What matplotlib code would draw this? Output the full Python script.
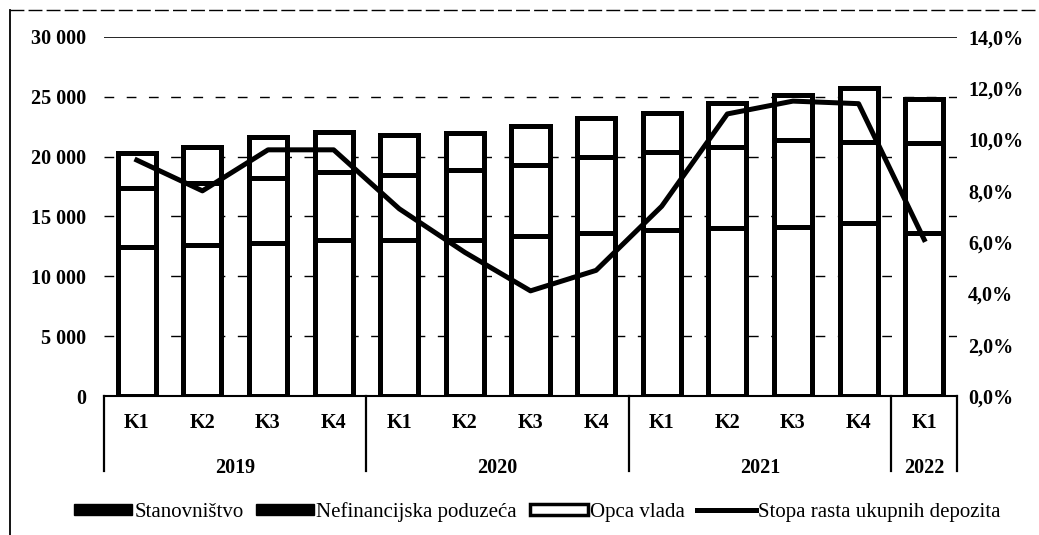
import matplotlib
matplotlib.use("Agg")
import matplotlib.pyplot as plt
from matplotlib.patches import Patch
from matplotlib.lines import Line2D
import numpy as np

quarters = ["K1", "K2", "K3", "K4", "K1", "K2", "K3", "K4", "K1", "K2", "K3", "K4", "K1"]
years = ["2019", "2020", "2021", "2022"]
year_sizes = [4, 4, 4, 1]
stanovnistvo = [12450, 12650, 12800, 13050, 13050, 13050, 13400, 13620, 13870, 14040, 14150, 14450, 13600]
nefinancijska = [4930, 5150, 5420, 5670, 5420, 5840, 5900, 6350, 6520, 6770, 7240, 6780, 7540]
opca_vlada = [2920, 3000, 3430, 3340, 3330, 3110, 3260, 3260, 3260, 3670, 3760, 4510, 3680]
stopa_rasta = [9.2, 8.0, 9.6, 9.6, 7.3, 5.6, 4.1, 4.9, 7.4, 11.0, 11.5, 11.4, 6.1]

plt.rcParams['font.family'] = 'serif'
plt.rcParams['font.serif'] = ['Liberation Serif']
FS = 14.5
FW = 'bold'

fig = plt.figure(figsize=(10.39, 5.35), dpi=100)
ax = fig.add_axes([104/1039, 1-396/535, (957-104)/1039, (396-37)/535])
ax2 = ax.twinx()

x = np.arange(len(quarters))
w = 0.58
s = np.array(stanovnistvo)
n = np.array(nefinancijska)
o = np.array(opca_vlada)
ax.bar(x, s, w, color='white', edgecolor='black', linewidth=3.6, zorder=2)
ax.bar(x, n, w, bottom=s, color='white', edgecolor='black', linewidth=3.6, zorder=2)
ax.bar(x, o, w, bottom=s+n, color='white', edgecolor='black', linewidth=3.6, zorder=2)

ax.set_xlim(-0.5, len(quarters)-0.5)
ax.set_ylim(0, 30000)
ax.set_yticks(np.arange(0, 30001, 5000))
ax.set_yticklabels([f"{v:,}".replace(",", " ") for v in range(0, 30001, 5000)],
                   fontsize=FS, fontweight=FW)
for v in range(5000, 30000, 5000):
    ax.axhline(v, color='black', lw=1.0, ls=(0, (7, 9)), zorder=1)
ax.axhline(30000, color='black', lw=1.2, zorder=1)
ax.tick_params(axis='y', length=0, pad=13)
ax.set_xticks([])
for sp in ['left', 'right', 'top']:
    ax.spines[sp].set_visible(False)
    ax2.spines[sp].set_visible(False)
ax.spines['bottom'].set_linewidth(1.5)
ax2.spines['bottom'].set_visible(False)

ax2.plot(x, stopa_rasta, color='black', lw=3.6, zorder=5)
ax2.set_ylim(0, 14)
ax2.set_yticks(np.arange(0, 14.1, 2))
ax2.set_yticklabels([f"{v:.1f}%".replace(".", ",") for v in np.arange(0, 14.1, 2)],
                    fontsize=FS, fontweight=FW)
ax2.tick_params(axis='y', length=0, pad=8)
ax.set_zorder(1)
ax2.set_zorder(2)
ax2.patch.set_visible(False)

# category labels
trans = ax.get_xaxis_transform()
for i, q in enumerate(quarters):
    ax.text(i, -0.075, q, transform=trans, ha='center', va='center', fontsize=FS,
            fontweight=FW, clip_on=False)
start = 0
bounds = [-0.5]
for yr, sz in zip(years, year_sizes):
    ax.text(start + (sz-1)/2, -0.2, yr, transform=trans, ha='center', va='center',
            fontsize=FS, fontweight=FW, clip_on=False)
    start += sz
    bounds.append(start - 0.5)
for b in bounds:
    ax.plot([b, b], [0, -0.21], transform=trans, color='black', lw=1.6, clip_on=False)

handles = [Patch(facecolor='black', edgecolor='black'),
           Patch(facecolor='black', edgecolor='black'),
           Patch(facecolor='white', edgecolor='black', linewidth=2.5),
           Line2D([0], [0], color='black', lw=3.6)]
labels = ["Stanovništvo", "Nefinancijska poduzeća", "Opca vlada", "Stopa rasta ukupnih depozita"]
fig.legend(handles, labels, loc='center', bbox_to_anchor=(537/1039, 1-512/535), ncol=4,
           frameon=False, prop={'size': 15}, handlelength=2.8, handleheight=0.45,
           handletextpad=0.1, columnspacing=0.6)

# frame from scan
fig.add_artist(Line2D([10/1039, 10/1039], [0, 1-10/535], color='black', lw=1.3))
fig.add_artist(Line2D([10/1039, 1], [1-10/535, 1-10/535], color='black', lw=1.0, ls=(0, (10, 3))))

fig.savefig("out.png", dpi=100)
